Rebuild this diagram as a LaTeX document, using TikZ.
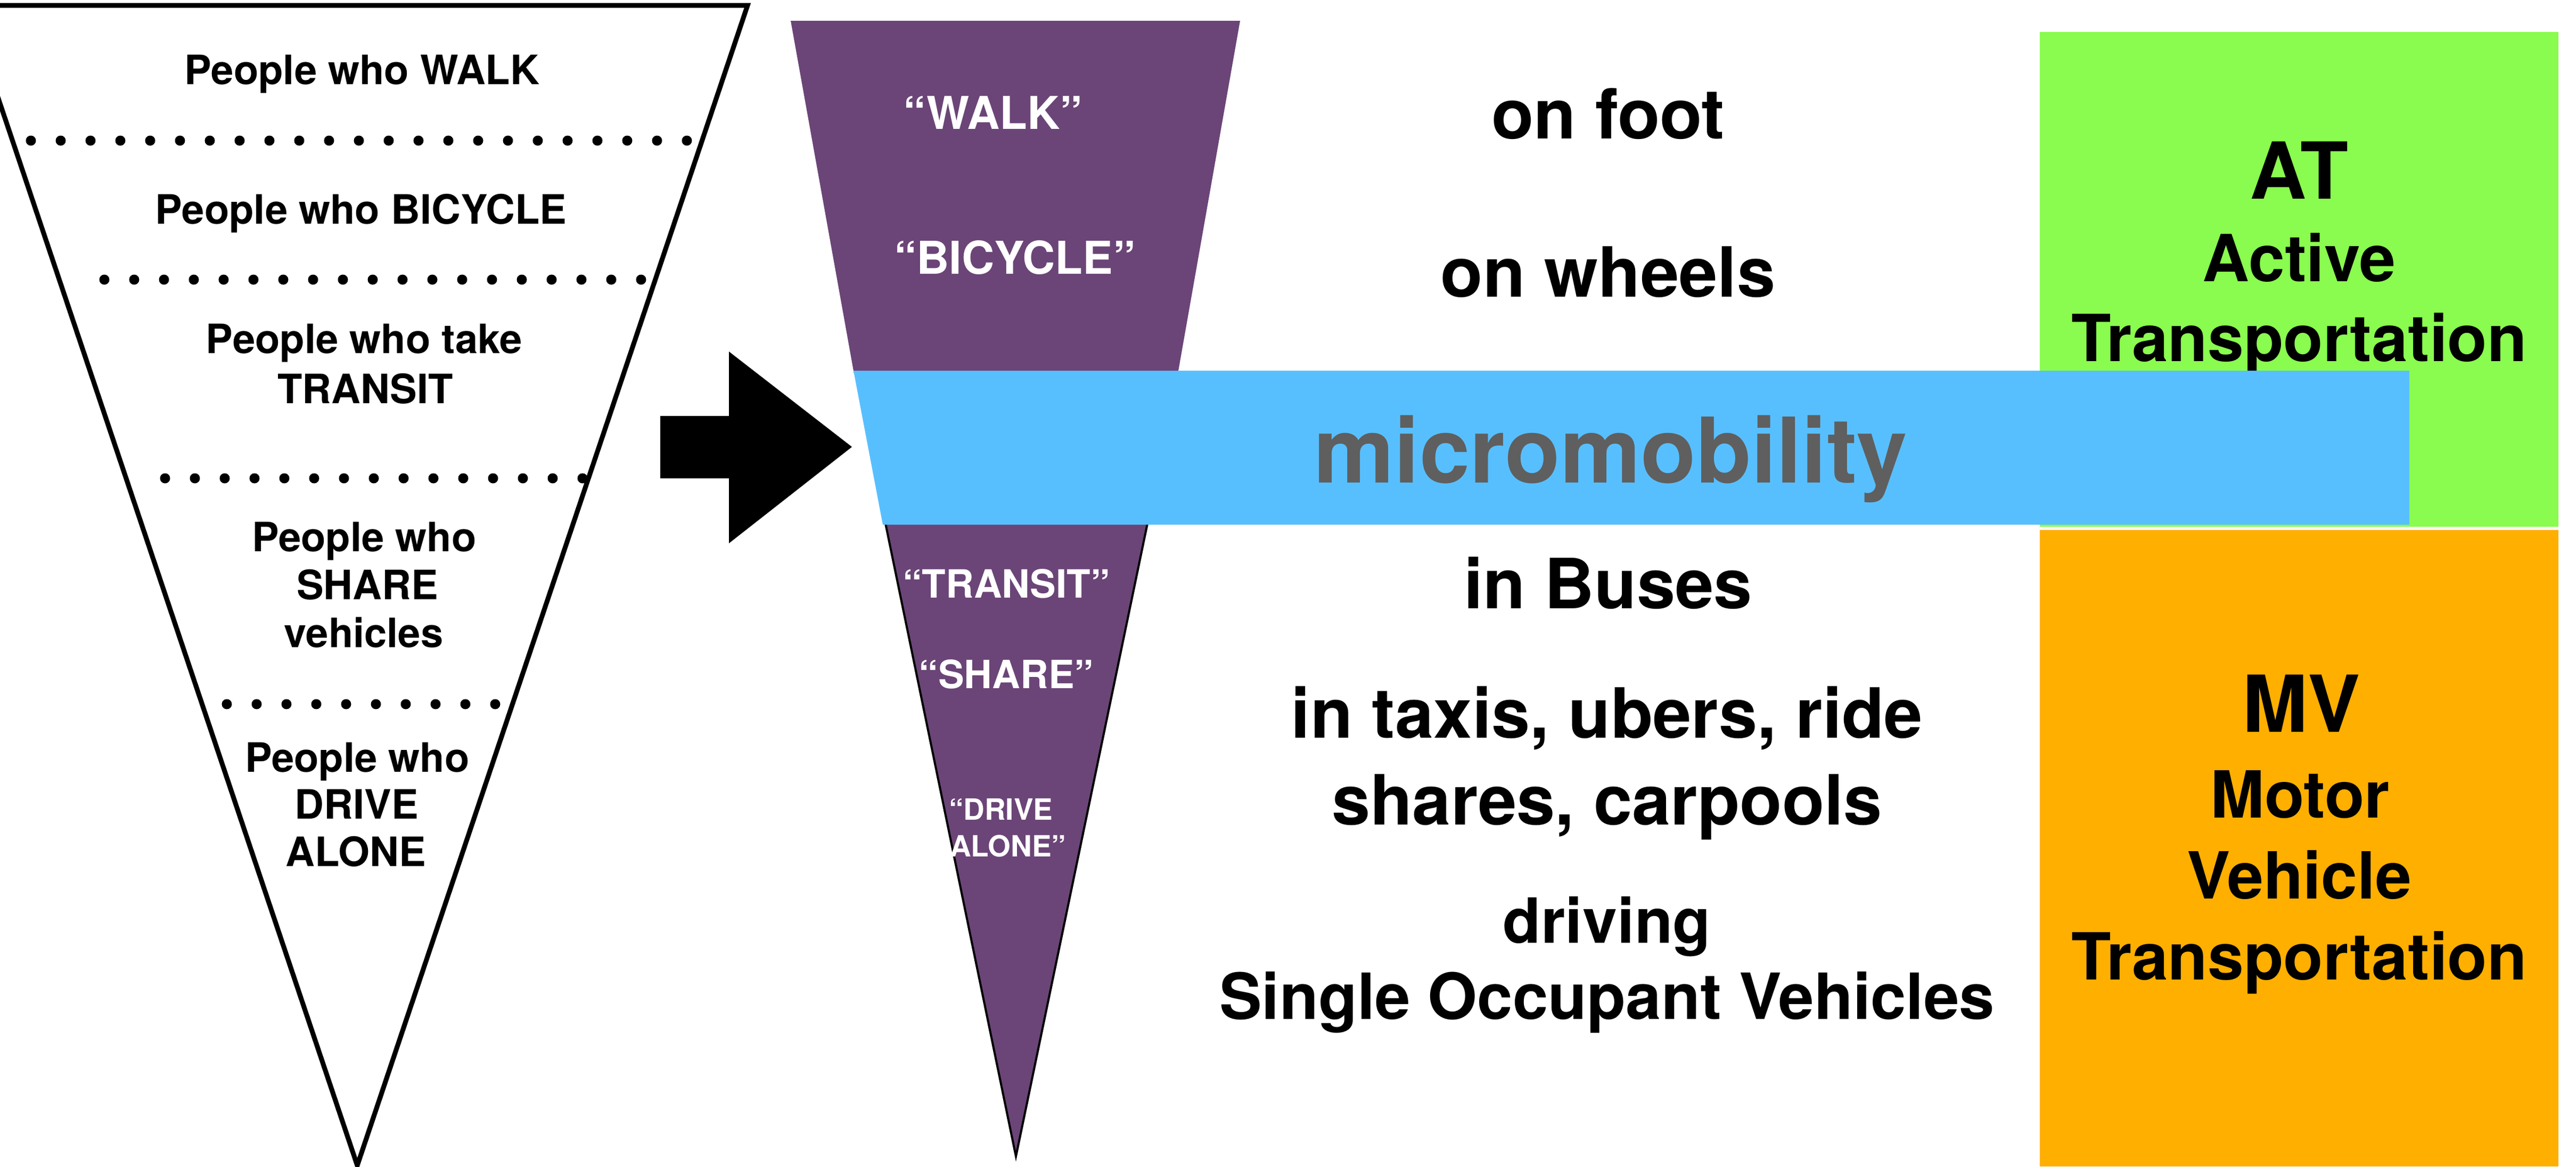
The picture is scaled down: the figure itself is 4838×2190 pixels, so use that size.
\documentclass[tikz,border=0pt]{standalone}
\usepackage{fontspec}
\setmainfont{TeX Gyre Heros}
\definecolor{purp}{HTML}{6B4577}
\definecolor{skyb}{HTML}{58BFFE}
\definecolor{limeg}{HTML}{8AFB4F}
\definecolor{orng}{HTML}{FEAF00}
\definecolor{grayt}{HTML}{5F5F5F}
\begin{document}
\begin{tikzpicture}[x=0.2pt,y=-0.2pt,
  txt/.style={anchor=base, inner sep=0pt, font=\bfseries},
  lefttxt/.style={txt, font=\bfseries\fontsize{15.2}{18}\selectfont},
  quotebig/.style={txt, text=white, font=\bfseries\fontsize{17}{20}\selectfont},
  quotemid/.style={txt, text=white, font=\bfseries\fontsize{14.6}{18}\selectfont},
  quotesmall/.style={txt, anchor=base west, text=white, font=\bfseries\fontsize{11}{13}\selectfont},
  midtxt/.style={txt, font=\bfseries\fontsize{26}{30}\selectfont},
  midtxtb/.style={txt, font=\bfseries\fontsize{23.4}{28}\selectfont},
  midtxtc/.style={txt, font=\bfseries\fontsize{23.9}{28}\selectfont},
  microtxt/.style={txt, text=grayt, font=\bfseries\fontsize{34}{40}\selectfont},
  boxbig/.style={txt, font=\bfseries\fontsize{29.5}{34}\selectfont},
  boxtxt/.style={txt, font=\bfseries\fontsize{24.4}{28}\selectfont},
  dotmark/.style={fill=black}
]
\useasboundingbox (0,0) rectangle (4838,2190);
\clip (0,0) rectangle (4838,2190);
\fill[white] (0,0) rectangle (4838,2190);

% left funnel
\draw[line width=1.8pt, line join=miter, fill=white] (-62,10) -- (1404,10) -- (671,2188) -- cycle;
\foreach \i in {0,...,22} \fill[dotmark] (58+56*\i,264) circle[radius=1.9pt];
\foreach \i in {0,...,18} \fill[dotmark] (196+56*\i,525) circle[radius=1.9pt];
\foreach \i in {0,...,14} \fill[dotmark] (310+56*\i,898) circle[radius=1.9pt];
\foreach \i in {0,...,9} \fill[dotmark] (426+56*\i,1322) circle[radius=1.9pt];

\node[lefttxt] (lwalk) at (680,158) {People who WALK};
\node[lefttxt] (lbike) at (678,420) {People who BICYCLE};
\node[lefttxt] (ltake) at (684,663) {People who take};
\node[lefttxt] (ltransit) at (686,757) {TRANSIT};
\node[lefttxt] (lshare1) at (684,1035) {People who};
\node[lefttxt] (lshare2) at (690,1125) {SHARE};
\node[lefttxt] (lshare3) at (683,1215) {vehicles};
\node[lefttxt] (ldrive1) at (671,1449) {People who};
\node[lefttxt] (ldrive2) at (670,1537) {DRIVE};
\node[lefttxt] (ldrive3) at (668,1626) {ALONE};

% big arrow
\fill[black] (1240,781) -- (1369,781) -- (1369,660) -- (1600,839) -- (1369,1020) -- (1369,898) -- (1240,898) -- cycle;

% purple funnel
\fill[purp] (1485,39) -- (2329,39) -- (2212,702) -- (1604,702) -- cycle;
\fill[purp] (1663,983) -- (2155,983) -- (1908,2171) -- cycle;
\draw[black, line width=0.8pt, line join=miter] (1663,983) -- (1908,2171) -- (2155,983);

% right boxes
\fill[limeg] (3831,60) rectangle (4805,989);
\fill[orng] (3831,995) rectangle (4805,2190);

\node[boxbig] (at) at (4318,373) {AT};
\node[boxtxt] (active) at (4318,528) {Active};
\node[boxtxt] (attrans) at (4318,678) {Transportation};

% micromobility bar
\fill[skyb] (1603,696) -- (4525,696) -- (4525,985) -- (1658,985) -- cycle;
\node[microtxt] (micro) at (3025,906) {micromobility};

\node[boxbig] (mv) at (4322,1374) {MV};
\node[boxtxt] (motor) at (4320,1535) {Motor};
\node[boxtxt] (vehicle) at (4318,1687) {Vehicle};
\node[boxtxt] (mvtrans) at (4318,1839) {Transportation};

% purple labels
\node[quotebig] (qwalk) at (1865,242) {“WALK”};
\node[quotebig] (qbike) at (1906,514) {“BICYCLE”};
\node[quotemid] (qtransit) at (1890,1122) {“TRANSIT”};
\node[quotemid] (qshare) at (1890,1292) {“SHARE”};
\node[quotesmall] (qdrive1) at (1781,1539) {“DRIVE};
\node[quotesmall] (qdrive2) at (1783,1608) {ALONE”};

% middle column
\node[midtxt] (foot) at (3020,260) {on foot};
\node[midtxt] (wheels) at (3020,557) {on wheels};
\node[midtxt] (buses) at (3020,1142) {in Buses};
\node[midtxt] (taxis) at (3018,1385) {in taxis, ubers, ride};
\node[midtxt] (shares) at (3018,1548) {shares, carpools};
\node[midtxtb] (driving) at (3018,1770) {driving};
\node[midtxtc] (sov) at (3018,1913) {Single Occupant Vehicles};
\end{tikzpicture}
\end{document}
